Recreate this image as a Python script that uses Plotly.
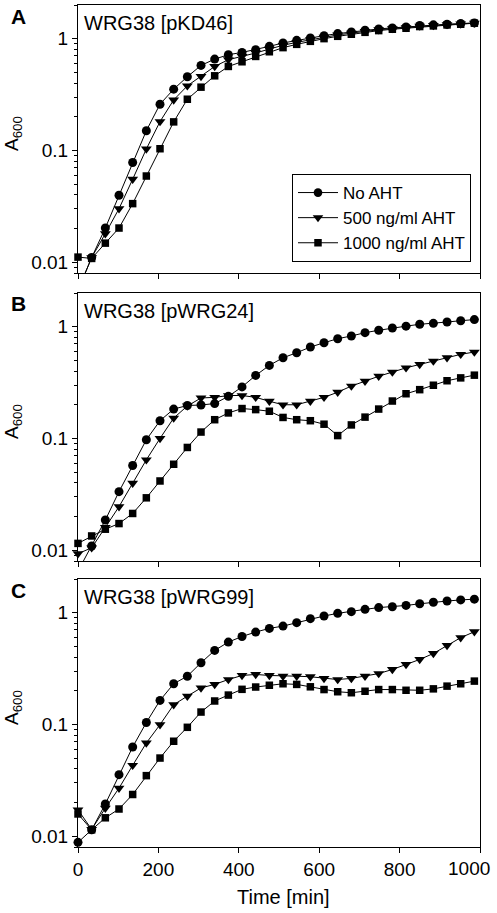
import math
import plotly.graph_objects as go

# ---------------- data ----------------
time_min = [i * 34 for i in range(30)]

series_names = ["No AHT", "500 ng/ml AHT", "1000 ng/ml AHT"]
panel_titles = ["WRG38 [pKD46]", "WRG38 [pWRG24]", "WRG38 [pWRG99]"]
panel_letters = ["A", "B", "C"]

a_no_aht = [0.0056, 0.011, 0.0202, 0.0397, 0.078, 0.150, 0.259, 0.353, 0.456, 0.576,
            0.656, 0.718, 0.753, 0.797, 0.853, 0.915, 0.966, 1.014, 1.064, 1.109,
            1.148, 1.188, 1.222, 1.248, 1.274, 1.31, 1.328, 1.345, 1.364, 1.383]
a_500 = [0.0056, 0.011, 0.018, 0.0301, 0.0552, 0.103, 0.181, 0.283, 0.378, 0.459,
         0.564, 0.648, 0.693, 0.744, 0.807, 0.872, 0.927, 0.979, 1.032, 1.079,
         1.121, 1.163, 1.201, 1.231, 1.256, 1.296, 1.314, 1.335, 1.354, 1.379]
a_1000 = [0.0111, 0.0108, 0.0148, 0.0202, 0.0334, 0.059, 0.1035, 0.180, 0.287, 0.368,
          0.465, 0.564, 0.621, 0.693, 0.763, 0.831, 0.889, 0.946, 1.0, 1.049,
          1.094, 1.139, 1.18, 1.214, 1.239, 1.283, 1.30, 1.326, 1.345, 1.375]

b_no_aht = [0.0065, 0.0109, 0.0186, 0.0334, 0.0572, 0.0973, 0.144, 0.183, 0.197, 0.199,
            0.205, 0.238, 0.289, 0.366, 0.450, 0.527, 0.584, 0.657, 0.718, 0.780,
            0.825, 0.883, 0.928, 0.973, 1.01, 1.05, 1.07, 1.10, 1.13, 1.156]
b_500 = [0.0093, 0.0105, 0.0160, 0.0245, 0.0397, 0.0643, 0.100, 0.152, 0.195, 0.230,
         0.233, 0.242, 0.242, 0.233, 0.215, 0.200, 0.200, 0.215, 0.233, 0.259,
         0.294, 0.325, 0.360, 0.392, 0.428, 0.459, 0.492, 0.527, 0.565, 0.593]
b_1000 = [0.0115, 0.0134, 0.0154, 0.0173, 0.0213, 0.0294, 0.0416, 0.0587, 0.083, 0.114,
          0.147, 0.169, 0.185, 0.181, 0.175, 0.154, 0.147, 0.144, 0.134, 0.106,
          0.132, 0.155, 0.183, 0.216, 0.251, 0.273, 0.299, 0.328, 0.348, 0.368]

c_no_aht = [0.0088, 0.0114, 0.0194, 0.0355, 0.0628, 0.104, 0.164, 0.231, 0.270, 0.356,
            0.459, 0.545, 0.612, 0.670, 0.723, 0.758, 0.813, 0.883, 0.933, 0.986,
            1.02, 1.07, 1.11, 1.13, 1.16, 1.20, 1.24, 1.27, 1.30, 1.32]
c_500 = [0.0172, 0.0115, 0.0178, 0.0269, 0.043, 0.0682, 0.0995, 0.150, 0.179, 0.212,
         0.228, 0.252, 0.274, 0.280, 0.274, 0.270, 0.270, 0.267, 0.258, 0.252,
         0.258, 0.270, 0.285, 0.310, 0.344, 0.381, 0.431, 0.509, 0.597, 0.675]
c_1000 = [0.0158, 0.0114, 0.0146, 0.0175, 0.0236, 0.0348, 0.050, 0.0707, 0.0942, 0.129,
          0.162, 0.183, 0.206, 0.216, 0.224, 0.231, 0.228, 0.217, 0.205, 0.196,
          0.192, 0.198, 0.205, 0.205, 0.202, 0.202, 0.208, 0.220, 0.231, 0.244]

panels = [[a_no_aht, a_500, a_1000], [b_no_aht, b_500, b_1000], [c_no_aht, c_500, c_1000]]

y_tick_vals = [0.01, 0.1, 1]
y_tick_text = ["0.01", "0.1", "1"]
x_tick_vals = [0, 200, 400, 600, 800, 1000]
x_tick_text = ["0", "200", "400", "600", "800", "1000"]

# ---------------- style ----------------
YMIN, YMAX = 0.008, 2.0
W, H = 497, 913
ML, MR, MT, MB = 78, 17, 5, 66
PH = H - MT - MB
FONT = "Liberation Sans, Arial, sans-serif"
symbols = ["circle", "triangle-down", "square"]
msizes = [9, 9.5, 7.5]
panel_px = [(5, 273), (293, 561), (579, 847)]  # top, bottom in pixels


def py(p):
    return (H - MB - p) / PH


def px(p):
    return (p - ML) / (W - ML - MR)


# the last x label sits against the page edge, so it is drawn as a right-anchored
# annotation at its tick value instead of a centred tick label
x_labels = x_tick_text[:-1] + [""]

fig = go.Figure()
annotations = []
for k, (top, bot) in enumerate(panel_px):
    xa = "x" if k == 0 else f"x{k+1}"
    ya = "y" if k == 0 else f"y{k+1}"
    for s, vals in enumerate(panels[k]):
        sizes = [msizes[s] if v >= YMIN else 0 for v in vals]
        fig.add_trace(go.Scatter(
            x=time_min, y=vals, xaxis=xa, yaxis=ya, mode="lines+markers",
            name=series_names[s], showlegend=(k == 0),
            line=dict(color="black", width=1),
            marker=dict(symbol=symbols[s], size=sizes, color="black", opacity=1,
                        line=dict(width=0)),
            cliponaxis=False,
        ))
    dom = [py(bot), py(top)]
    axkey = "" if k == 0 else str(k + 1)
    fig.layout["xaxis" + axkey] = dict(
        domain=[0, 1], range=[0, 1000], tickvals=x_tick_vals, ticktext=x_labels,
        showticklabels=(k == 2), ticks="outside", ticklen=5, tickcolor="black",
        showline=True, linecolor="black", linewidth=1, mirror=True,
        showgrid=False, zeroline=False, anchor=ya, automargin=False,
        ticklabeloverflow="allow",
        tickfont=dict(family=FONT, size=19, color="black"),
    )
    fig.layout["yaxis" + axkey] = dict(
        domain=dom, type="log", range=[math.log10(YMIN), math.log10(YMAX)],
        tickvals=y_tick_vals, ticktext=y_tick_text, ticks="outside", ticklen=5,
        tickcolor="black", showline=True, linecolor="black", linewidth=1, mirror=True,
        showgrid=False, zeroline=False, anchor=xa, automargin=False,
        ticklabeloverflow="allow",
        tickfont=dict(family=FONT, size=19, color="black"),
        minor=dict(tickvals=[m * 10 ** e for e in (-3, -2, -1, 0) for m in range(2, 10)],
                   ticks="outside", ticklen=3, tickcolor="black", showgrid=False),
    )
    # panel letter
    annotations.append(dict(text=f"<b>{panel_letters[k]}</b>", x=px(18), y=py(top + 11),
                            xref="paper", yref="paper", showarrow=False,
                            xanchor="center", yanchor="middle",
                            font=dict(family=FONT, size=21, color="black")))
    # inner title
    annotations.append(dict(text=panel_titles[k], x=px(82), y=py(top + 18),
                            xref="paper", yref="paper", showarrow=False,
                            xanchor="left", yanchor="middle",
                            font=dict(family=FONT, size=20, color="black")))
    # y title
    annotations.append(dict(text="A<sub>600</sub>", x=px(13), y=py((top + bot) / 2 - 5),
                            xref="paper", yref="paper", showarrow=False, textangle=-90,
                            xanchor="center", yanchor="middle",
                            font=dict(family=FONT, size=19, color="black")))

# last x tick label (bottom panel)
annotations.append(dict(text=x_tick_text[-1], x=x_tick_vals[-1], xref="x3",
                        y=py(868), yref="paper", showarrow=False,
                        xanchor="right", yanchor="middle", xshift=12,
                        font=dict(family=FONT, size=19, color="black")))

annotations.append(dict(text="Time [min]", x=px(283), y=py(897), xref="paper", yref="paper",
                        showarrow=False, xanchor="center", yanchor="middle",
                        font=dict(family=FONT, size=20, color="black")))

fig.update_layout(
    width=W, height=H, margin=dict(l=ML, r=MR, t=MT, b=MB, autoexpand=False),
    paper_bgcolor="white", plot_bgcolor="white",
    annotations=annotations,
    legend=dict(x=px(292), y=py(262), xanchor="left", yanchor="bottom",
                bgcolor="white", bordercolor="black", borderwidth=1,
                font=dict(family=FONT, size=17, color="black"),
                tracegroupgap=0, itemwidth=40),
    font=dict(family=FONT, color="black"),
)

fig.write_html("out.html", post_script="document.body.style.margin='0';",
               config={"displayModeBar": False})
